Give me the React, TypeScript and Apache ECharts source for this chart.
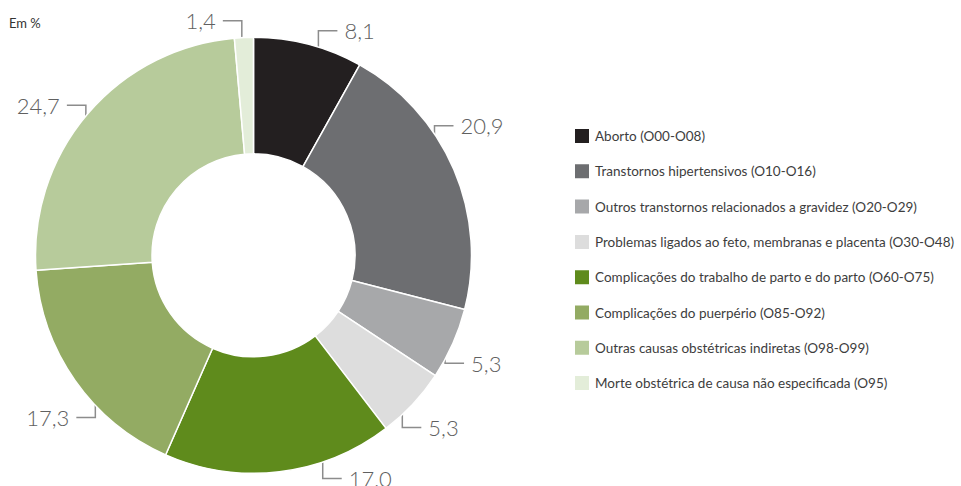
import React, { useEffect, useRef } from "react";
import * as echarts from "echarts";

const categories = [
  "Aborto (O00-O08)",
  "Transtornos hipertensivos (O10-O16)",
  "Outros transtornos relacionados a gravidez (O20-O29)",
  "Problemas ligados ao feto, membranas e placenta (O30-O48)",
  "Complicações do trabalho de parto e do parto (O60-O75)",
  "Complicações do puerpério (O85-O92)",
  "Outras causas obstétricas indiretas (O98-O99)",
  "Morte obstétrica de causa não especificada (O95)",
];
const values = [8.1, 20.9, 5.3, 5.3, 17.0, 17.3, 24.7, 1.4];
const colors = [
  "#231f20",
  "#6d6e71",
  "#a7a8aa",
  "#dddddd",
  "#5f8b1c",
  "#93ab63",
  "#b7cb9b",
  "#e3edd9",
];
// leader-line anchor angle adjustments (degrees) relative to slice middle
const anchorShift = [3.6, -6.3, -1, 1.3, -12.6, -5.4, -4.2, -0.7];

const CX = 253.5;
const CY = 255.3;
const R_IN = 101.5;
const R_OUT = 218;
const ANCHOR_R = 208;
const V_LEN = 27;
const H_LEN = 19;
const TEXT_GAP = 7;

export default function App() {
  const ref = useRef<HTMLDivElement>(null);
  useEffect(() => {
    document.body.style.margin = "0";
    const chart = echarts.init(ref.current!, null, { renderer: "svg" });
    const total = values.reduce((a, b) => a + b, 0);
    const option: any = {
      animation: false,
      backgroundColor: "#ffffff",
      graphic: [
        {
          type: "text",
          left: 9,
          top: 16,
          style: {
            text: "Em %",
            fontSize: 13,
            fill: "#333333",
            fontFamily: "Lato, 'Open Sans', sans-serif",
          },
        },
      ],
      legend: {
        orient: "vertical",
        left: 573,
        top: 127,
        padding: 0,
        itemWidth: 16,
        itemHeight: 16,
        itemGap: 17.3,
        icon: "rect",
        selectedMode: false,
        textStyle: {
          fontSize: 13.5,
          lineHeight: 16,
          color: "#3d3d3d",
          fontFamily: "Lato, 'Open Sans', sans-serif",
        },
        data: categories,
      },
      series: [
        {
          type: "pie",
          center: [CX, CY],
          radius: [R_IN, R_OUT],
          startAngle: 90,
          clockwise: true,
          avoidLabelOverlap: false,
          silent: true,
          emphasis: { disabled: true },
          itemStyle: { borderColor: "#ffffff", borderWidth: 1.5 },
          label: {
            show: true,
            position: "outside",
            fontSize: 22,
            fontWeight: 300,
            color: "#606060",
            fontFamily: "Lato, 'Open Sans', sans-serif",
            formatter: (p: any) => p.value.toFixed(1).replace(".", ","),
          },
          labelLine: {
            show: true,
            length: 10,
            length2: 10,
            lineStyle: { color: "#8c8c8c", width: 1.5 },
          },
          labelLayout: (params: any) => {
            const i = params.dataIndex;
            let before = 0;
            for (let k = 0; k < i; k++) before += values[k];
            const mid = ((before + values[i] / 2) / total) * 360 + anchorShift[i];
            const rad = (mid * Math.PI) / 180;
            const s = Math.sin(rad);
            const c = Math.cos(rad);
            const x0 = CX + ANCHOR_R * s;
            const y0 = CY - ANCHOR_R * c;
            const y1 = c > 0 ? y0 - V_LEN : y0 + V_LEN;
            const dir = s >= 0 ? 1 : -1;
            const x2 = x0 + dir * H_LEN;
            return {
              x: x2 + dir * TEXT_GAP,
              y: y1,
              align: dir > 0 ? "left" : "right",
              verticalAlign: "middle",
              labelLinePoints: [
                [x0, y0],
                [x0, y1],
                [x2, y1],
              ],
            };
          },
          data: categories.map((name, i) => ({
            name,
            value: values[i],
            itemStyle: { color: colors[i] },
          })),
        },
      ],
    };
    chart.setOption(option);
    return () => chart.dispose();
  }, []);
  return (
    <div
      ref={ref}
      style={{ position: "fixed", left: 0, top: 0, width: 961, height: 486 }}
    />
  );
}
